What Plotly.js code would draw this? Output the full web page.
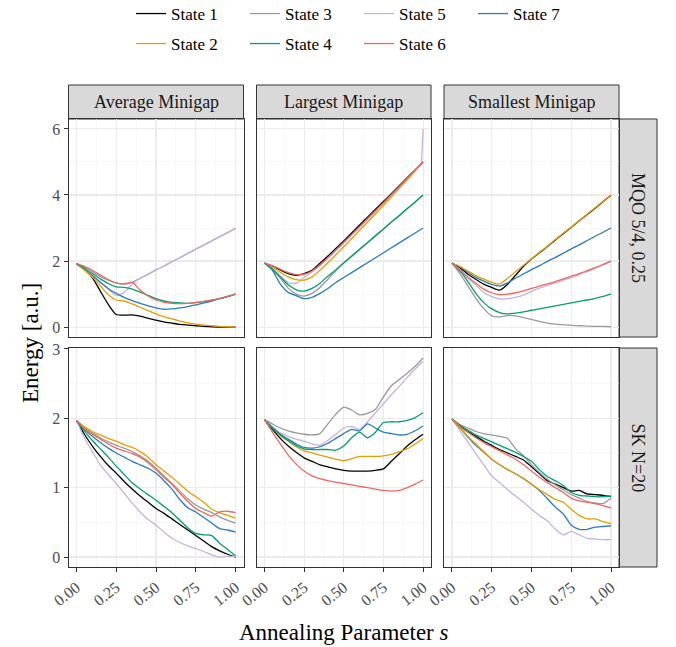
<!DOCTYPE html>
<html>
<head>
<meta charset="utf-8">
<script src="https://cdn.plot.ly/plotly-3.0.1.min.js"></script>
<style>html,body{margin:0;padding:0;background:#fff;}#chart{width:676px;height:647px;}</style>
</head>
<body>
<div id="chart"></div>
<script>
// ---- data ----
const states = ["State 1","State 2","State 3","State 4","State 5","State 6","State 7"];
const colors = ["#000000","#E69F00","#999999","#009E73","#C7B3DE","#F0675F","#2B7BBA"];
const facetCols = ["Average Minigap","Largest Minigap","Smallest Minigap"];
const facetRows = ["MQO 5/4, 0.25","SK N=20"];
const xTicks = ["0.00","0.25","0.50","0.75","1.00"];
const s = [0,0.05,0.1,0.15,0.2,0.25,0.3,0.35,0.4,0.45,0.5,0.55,0.6,0.65,0.7,0.75,0.8,0.85,0.9,0.95,1.0];
const sLargestMQO5 = [0,0.05,0.1,0.15,0.2,0.25,0.3,0.35,0.4,0.45,0.5,0.55,0.6,0.65,0.7,0.75,0.8,0.85,0.9,0.95,0.99,1.0];

// MQO, Average Minigap
const avgMQO1 = [1.92,1.75,1.50,1.09,0.69,0.38,0.36,0.37,0.33,0.27,0.21,0.16,0.12,0.08,0.06,0.04,0.02,0.01,0.0,0.0,0.0];
const avgMQO2 = [1.92,1.72,1.52,1.25,0.98,0.82,0.79,0.70,0.60,0.50,0.40,0.32,0.25,0.18,0.13,0.09,0.06,0.04,0.02,0.01,0.0];
const avgMQO3 = [1.92,1.82,1.68,1.53,1.42,1.34,1.30,1.35,1.48,1.60,1.73,1.85,1.98,2.10,2.23,2.36,2.48,2.61,2.74,2.86,2.99];
const avgMQO4 = [1.92,1.78,1.62,1.46,1.32,1.22,1.20,1.15,1.06,0.96,0.86,0.79,0.75,0.73,0.72,0.74,0.77,0.81,0.86,0.92,1.0];
const avgMQO5 = [1.92,1.75,1.55,1.35,1.15,0.96,1.05,1.30,1.47,1.60,1.73,1.85,1.98,2.10,2.23,2.36,2.48,2.61,2.74,2.86,2.99];
const avgMQO6 = [1.92,1.84,1.72,1.58,1.44,1.33,1.31,1.36,1.12,0.94,0.82,0.75,0.72,0.71,0.72,0.75,0.78,0.82,0.87,0.93,1.0];
const avgMQO7 = [1.92,1.76,1.56,1.36,1.16,1.02,0.90,0.80,0.72,0.64,0.58,0.54,0.55,0.58,0.62,0.67,0.73,0.79,0.86,0.93,1.0];

// MQO, Largest Minigap
const lrgMQO1 = [1.94,1.85,1.73,1.62,1.57,1.62,1.72,1.93,2.15,2.38,2.61,2.85,3.09,3.33,3.57,3.80,4.04,4.28,4.52,4.76,5.0];
const lrgMQO2 = [1.94,1.82,1.66,1.52,1.44,1.42,1.52,1.72,1.95,2.19,2.43,2.68,2.93,3.18,3.43,3.68,3.94,4.20,4.46,4.73,5.0];
const lrgMQO3 = [1.94,1.76,1.48,1.18,1.00,0.94,1.02,1.20,1.45,1.70,1.94,2.14,2.35,2.55,2.76,2.96,3.17,3.37,3.58,3.79,4.0];
const lrgMQO4 = [1.94,1.76,1.52,1.28,1.13,1.09,1.17,1.33,1.54,1.74,1.95,2.15,2.36,2.56,2.77,2.97,3.18,3.38,3.59,3.79,4.0];
const lrgMQO5 = [1.94,1.78,1.55,1.34,1.32,1.50,1.66,1.86,2.08,2.31,2.54,2.78,3.02,3.26,3.50,3.74,3.99,4.24,4.49,4.74,4.99,6.0];
const lrgMQO6 = [1.94,1.86,1.75,1.65,1.59,1.60,1.70,1.88,2.10,2.33,2.56,2.80,3.04,3.28,3.52,3.76,4.01,4.25,4.50,4.75,5.0];
const lrgMQO7 = [1.94,1.72,1.30,1.05,0.95,0.86,0.90,1.02,1.17,1.35,1.50,1.65,1.80,1.95,2.10,2.25,2.40,2.55,2.70,2.85,3.0];

// MQO, Smallest Minigap
const smlMQO1 = [1.94,1.80,1.60,1.45,1.30,1.20,1.12,1.30,1.57,1.84,2.06,2.25,2.44,2.64,2.83,3.02,3.22,3.41,3.60,3.80,3.99];
const smlMQO2 = [1.94,1.84,1.70,1.56,1.45,1.36,1.30,1.48,1.68,1.87,2.07,2.26,2.45,2.65,2.84,3.03,3.23,3.42,3.61,3.81,4.0];
const smlMQO3 = [1.94,1.62,1.25,0.87,0.56,0.34,0.31,0.35,0.34,0.29,0.23,0.17,0.12,0.09,0.07,0.05,0.04,0.03,0.02,0.02,0.01];
const smlMQO4 = [1.94,1.70,1.38,1.02,0.74,0.55,0.44,0.40,0.42,0.46,0.51,0.55,0.60,0.64,0.69,0.73,0.78,0.82,0.87,0.93,1.0];
const smlMQO5 = [1.94,1.72,1.48,1.27,1.05,0.92,0.85,0.86,0.90,0.97,1.08,1.18,1.26,1.34,1.42,1.50,1.59,1.68,1.78,1.88,1.99];
const smlMQO6 = [1.94,1.74,1.52,1.33,1.15,1.04,0.98,1.00,1.04,1.10,1.17,1.24,1.31,1.38,1.46,1.54,1.62,1.71,1.80,1.90,2.0];
const smlMQO7 = [1.94,1.82,1.66,1.51,1.39,1.29,1.24,1.34,1.48,1.61,1.74,1.86,1.99,2.11,2.24,2.37,2.49,2.62,2.75,2.87,3.0];

// SK, Average Minigap
const avgSK1 = [1.97,1.77,1.60,1.45,1.32,1.21,1.09,0.98,0.88,0.79,0.70,0.63,0.55,0.47,0.39,0.31,0.23,0.15,0.09,0.04,0.0];
const avgSK2 = [1.97,1.88,1.81,1.76,1.71,1.67,1.62,1.58,1.52,1.44,1.33,1.24,1.15,1.05,0.95,0.87,0.79,0.69,0.64,0.60,0.56];
const avgSK3 = [1.97,1.86,1.79,1.72,1.66,1.61,1.57,1.52,1.46,1.38,1.28,1.17,1.06,0.95,0.84,0.75,0.69,0.64,0.58,0.53,0.49];
const avgSK4 = [1.97,1.82,1.68,1.56,1.44,1.31,1.19,1.07,0.98,0.90,0.82,0.73,0.64,0.53,0.42,0.34,0.32,0.31,0.20,0.11,0.02];
const avgSK5 = [1.97,1.72,1.52,1.33,1.19,1.06,0.92,0.78,0.65,0.54,0.46,0.36,0.27,0.21,0.16,0.12,0.08,0.03,0.0,0.01,0.01];
const avgSK6 = [1.97,1.85,1.77,1.70,1.63,1.57,1.53,1.49,1.44,1.36,1.26,1.15,1.05,0.92,0.80,0.70,0.64,0.59,0.65,0.66,0.64];
const avgSK7 = [1.97,1.84,1.74,1.65,1.57,1.50,1.44,1.38,1.33,1.28,1.21,1.10,0.98,0.83,0.71,0.65,0.57,0.49,0.41,0.39,0.36];

// SK, Largest Minigap
const lrgSK1 = [1.98,1.84,1.71,1.60,1.51,1.43,1.38,1.33,1.30,1.27,1.25,1.24,1.24,1.24,1.25,1.27,1.38,1.49,1.60,1.69,1.77];
const lrgSK2 = [1.98,1.86,1.75,1.67,1.59,1.53,1.50,1.47,1.44,1.41,1.39,1.42,1.45,1.45,1.45,1.46,1.48,1.52,1.56,1.63,1.71];
const lrgSK3 = [1.98,1.92,1.86,1.82,1.79,1.77,1.76,1.78,1.92,2.06,2.16,2.12,2.05,2.07,2.13,2.31,2.47,2.56,2.65,2.75,2.87];
const lrgSK4 = [1.98,1.86,1.76,1.68,1.61,1.56,1.55,1.55,1.55,1.54,1.60,1.72,1.80,1.72,1.80,1.94,1.95,1.95,1.97,2.01,2.08];
const lrgSK5 = [1.98,1.88,1.79,1.74,1.70,1.67,1.63,1.61,1.68,1.77,1.86,1.88,1.84,1.95,2.08,2.21,2.34,2.46,2.59,2.71,2.82];
const lrgSK6 = [1.98,1.80,1.63,1.47,1.34,1.24,1.17,1.13,1.10,1.08,1.06,1.04,1.02,1.00,0.98,0.96,0.95,0.96,1.00,1.05,1.11];
const lrgSK7 = [1.98,1.87,1.77,1.70,1.63,1.58,1.57,1.59,1.64,1.71,1.78,1.84,1.82,1.92,1.86,1.80,1.78,1.76,1.77,1.82,1.89];

// SK, Smallest Minigap
const smlSK1 = [1.99,1.89,1.81,1.74,1.67,1.61,1.55,1.50,1.45,1.40,1.30,1.20,1.10,1.05,1.00,0.95,0.96,0.91,0.90,0.89,0.87];
const smlSK2 = [1.99,1.86,1.74,1.63,1.52,1.41,1.33,1.26,1.20,1.13,1.05,0.97,0.90,0.83,0.79,0.69,0.60,0.55,0.55,0.51,0.48];
const smlSK3 = [1.99,1.91,1.86,1.81,1.78,1.76,1.74,1.71,1.56,1.46,1.33,1.22,1.12,1.04,0.97,0.90,0.85,0.80,0.78,0.77,0.85];
const smlSK4 = [1.99,1.90,1.83,1.76,1.71,1.66,1.61,1.56,1.51,1.45,1.38,1.26,1.16,1.10,1.03,0.93,0.89,0.88,0.87,0.87,0.88];
const smlSK5 = [1.99,1.82,1.66,1.49,1.33,1.17,1.07,0.97,0.88,0.79,0.69,0.60,0.52,0.40,0.32,0.37,0.32,0.27,0.26,0.25,0.25];
const smlSK6 = [1.99,1.88,1.80,1.72,1.65,1.59,1.53,1.47,1.41,1.33,1.24,1.15,1.07,1.00,0.93,0.85,0.81,0.79,0.77,0.74,0.71];
const smlSK7 = [1.99,1.86,1.73,1.61,1.51,1.41,1.33,1.26,1.20,1.13,1.05,0.96,0.84,0.72,0.62,0.46,0.40,0.40,0.43,0.44,0.45];

// ---- build ----
const panels = [
  [avgMQO1,avgMQO2,avgMQO3,avgMQO4,avgMQO5,avgMQO6,avgMQO7],
  [lrgMQO1,lrgMQO2,lrgMQO3,lrgMQO4,lrgMQO5,lrgMQO6,lrgMQO7],
  [smlMQO1,smlMQO2,smlMQO3,smlMQO4,smlMQO5,smlMQO6,smlMQO7],
  [avgSK1,avgSK2,avgSK3,avgSK4,avgSK5,avgSK6,avgSK7],
  [lrgSK1,lrgSK2,lrgSK3,lrgSK4,lrgSK5,lrgSK6,lrgSK7],
  [smlSK1,smlSK2,smlSK3,smlSK4,smlSK5,smlSK6,smlSK7]
];
const W = 676, H = 647;
const FONT = '"Liberation Serif", "DejaVu Serif", serif';
const colPx = [[68.5,243.5],[256.5,431],[444,619]];
const rowPx = [[119,337],[348,567]];
const yRanges = [[-0.3,6.3],[-0.1435,3.0135]];
const yDt = [2,1];
const drawOrder = [0,2,4,6,1,3,5]; // State 1,3,5,7,2,4,6
const legendRow = {0:'legend',2:'legend',4:'legend',6:'legend',1:'legend2',3:'legend2',5:'legend2'};

const traces = [];
const legendCommon = {orientation:'h', xanchor:'left', yanchor:'top', entrywidth:69, entrywidthmode:'pixels',
           font:{family:FONT,size:17,color:'#000'}, bgcolor:'rgba(0,0,0,0)', tracegroupgap:0, itemwidth:30, borderwidth:0};
const layout = {
  width: W, height: H,
  margin: {l:0,r:0,t:0,b:0,autoexpand:false},
  paper_bgcolor: '#fff', plot_bgcolor: '#fff',
  font: {family: FONT, color: '#000', size: 14},
  showlegend: true,
  legend: Object.assign({}, legendCommon, {x:131/W, y:1+4/H}),
  legend2: Object.assign({}, legendCommon, {x:131/W, y:1-26/H}),
  shapes: [], annotations: []
};

for (let p = 0; p < 6; p++) {
  const r = Math.floor(p/3), c = p%3;
  const ax = p === 0 ? '' : String(p+1);
  const xd = [colPx[c][0]/W, colPx[c][1]/W];
  const yd = [1-rowPx[r][1]/H, 1-rowPx[r][0]/H];
  const bottom = r === 1, left = c === 0;
  layout['xaxis'+ax] = {
    domain: xd, anchor: 'y'+ax, range: [-0.05,1.05], fixedrange: true, automargin: false,
    tickmode: 'array', tickvals: [0,0.25,0.5,0.75,1], ticktext: xTicks,
    showticklabels: bottom, ticks: bottom ? 'outside' : '', ticklen: 4, tickwidth: 1, tickcolor: '#333',
    tickangle: -38, tickfont: {family: FONT, size: 16, color: '#4d4d4d'},
    showgrid: true, gridcolor: '#ebebeb', gridwidth: 1.1,
    minor: {dtick: 0.125, tick0: 0, showgrid: true, gridcolor: '#f2f2f2', gridwidth: 0.6, ticks: ''},
    zeroline: false, showline: true, mirror: true, linecolor: '#333', linewidth: 1
  };
  layout['yaxis'+ax] = {
    domain: yd, anchor: 'x'+ax, range: yRanges[r], fixedrange: true, automargin: false,
    tick0: 0, dtick: yDt[r],
    showticklabels: left, ticks: left ? 'outside' : '', ticklen: 4, tickwidth: 1, tickcolor: '#333',
    tickfont: {family: FONT, size: 16, color: '#4d4d4d'},
    showgrid: true, gridcolor: '#ebebeb', gridwidth: 1.1,
    minor: {dtick: yDt[r]/2, tick0: 0, showgrid: true, gridcolor: '#f2f2f2', gridwidth: 0.6, ticks: ''},
    zeroline: false, showline: true, mirror: true, linecolor: '#333', linewidth: 1
  };
  drawOrder.forEach(k => {
    const isSpecial = (p === 1 && k === 4);
    traces.push({
      type: 'scatter', mode: 'lines',
      x: isSpecial ? sLargestMQO5 : s, y: panels[p][k],
      xaxis: 'x'+ax, yaxis: 'y'+ax,
      name: states[k], legendgroup: states[k], showlegend: p === 0,
      legend: legendRow[k],
      line: {color: colors[k], width: 1.3, shape: isSpecial ? 'linear' : 'spline', smoothing: 0.6},
      hoverinfo: 'skip'
    });
  });
}

// strips
const stripTop = 85;
colPx.forEach((cp, c) => {
  layout.shapes.push({type:'rect', xref:'paper', yref:'paper', x0:cp[0]/W, x1:cp[1]/W, y0:1-rowPx[0][0]/H, y1:1-stripTop/H,
    fillcolor:'#d9d9d9', line:{color:'#333', width:1}, layer:'below'});
  layout.annotations.push({xref:'paper', yref:'paper', x:(cp[0]+cp[1])/2/W, y:1-(stripTop+rowPx[0][0])/2/H,
    text: facetCols[c], showarrow:false, font:{family:FONT, size:18, color:'#1a1a1a'}, xanchor:'center', yanchor:'middle'});
});
rowPx.forEach((rp, r) => {
  layout.shapes.push({type:'rect', xref:'paper', yref:'paper', x0:619/W, x1:657/W, y0:1-rp[1]/H, y1:1-rp[0]/H,
    fillcolor:'#d9d9d9', line:{color:'#333', width:1}, layer:'below'});
  layout.annotations.push({xref:'paper', yref:'paper', x:638/W, y:1-(rp[0]+rp[1])/2/H,
    text: facetRows[r], showarrow:false, textangle: 90, font:{family:FONT, size:18, color:'#1a1a1a'}, xanchor:'center', yanchor:'middle'});
});
// axis titles
layout.annotations.push({xref:'paper', yref:'paper', x:30/W, y:1-343/H, text:'Energy [a.u.]', showarrow:false, textangle:-90,
  font:{family:FONT, size:23, color:'#000'}, xanchor:'center', yanchor:'middle'});
layout.annotations.push({xref:'paper', yref:'paper', x:344/W, y:1-632/H, text:'Annealing Parameter <span style="font-style:italic">s</span>', showarrow:false,
  font:{family:FONT, size:23, color:'#000'}, xanchor:'center', yanchor:'middle'});

Plotly.newPlot('chart', traces, layout, {staticPlot: true, displayModeBar: false});
</script>
</body>
</html>
